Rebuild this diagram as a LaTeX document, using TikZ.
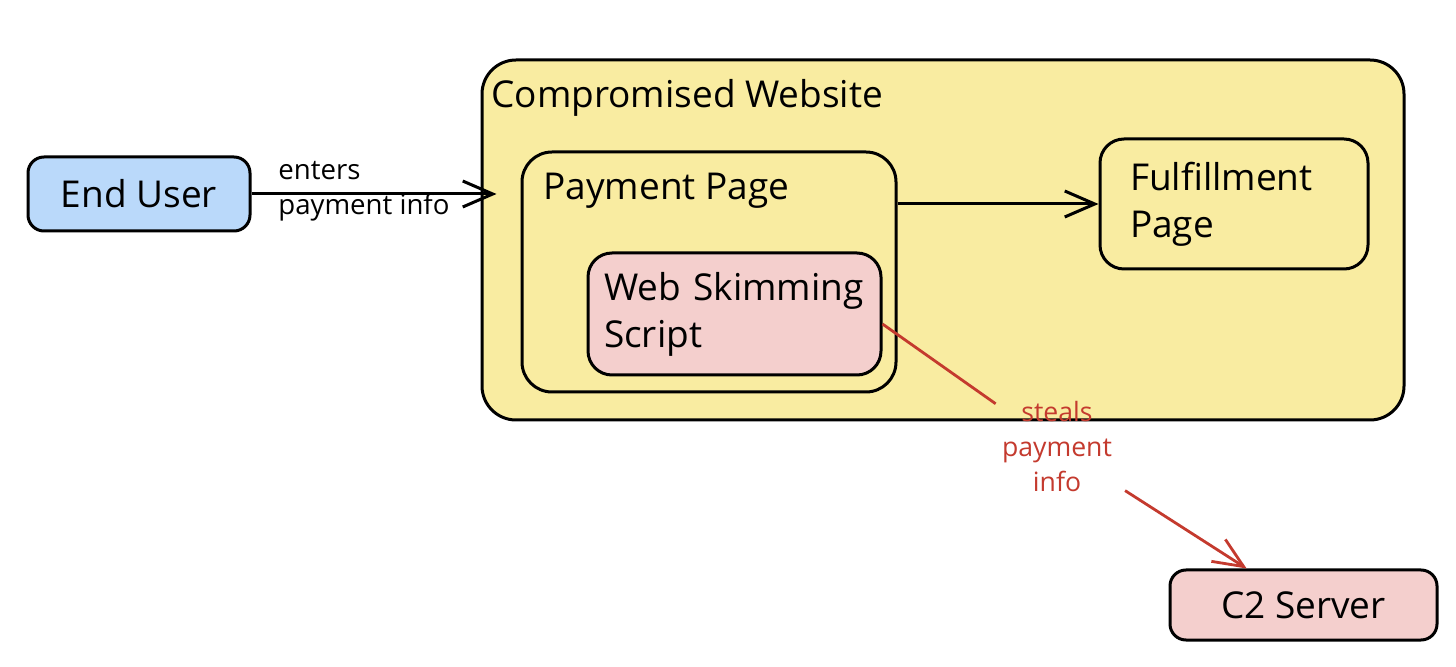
\documentclass[tikz,border=0pt]{standalone}
\usepackage{fontspec}
\setmainfont{Open Sans}
\usetikzlibrary{arrows.meta}
\definecolor{userblue}{HTML}{BAD9FA}
\definecolor{siteyellow}{HTML}{F9ECA1}
\definecolor{skimpink}{HTML}{F4CFCD}
\definecolor{stealred}{HTML}{C43A2E}
\tikzset{
  box/.style={draw=black, line width=1.5pt, inner sep=0pt},
  bigtext/.style={font=\fontsize{18.5}{23.5}\selectfont},
  smalltext/.style={font=\fontsize{13.8}{17.5}\selectfont},
  redtext/.style={font=\fontsize{13.3}{17.5}\selectfont},
  flow/.style={draw=black, line width=1.5pt, -{Straight Barb[length=15pt,width=13pt,line width=1.5pt]}},
  steal/.style={draw=stealred, line width=1.4pt},
}
\begin{document}
\begin{tikzpicture}[x=0.5pt, y=-0.5pt]
\useasboundingbox (0,0) rectangle (1456,667);
% containers
\node[box, fill=siteyellow, rounded corners=17pt, minimum width=461pt, minimum height=180pt] (WS) at (943,240) {};
\node[bigtext, anchor=base west, inner sep=0pt] (WStitle) at (491,108) {Compromised Website};
\node[box, fill=siteyellow, rounded corners=15pt, minimum width=187pt, minimum height=120pt] (PP) at (709,272) {};
\node[bigtext, anchor=base west, inner sep=0pt] (PPtitle) at (543,200) {Payment Page};
\node[box, fill=skimpink, rounded corners=12pt, inner xsep=8pt, text width=130.5pt, minimum height=61pt, align=left, bigtext] (SK) at (734.5,314) {Web Skimming\\Script};
\node[box, fill=siteyellow, rounded corners=12pt, inner xsep=15pt, text width=104pt, minimum height=65pt, align=left, bigtext] (FP) at (1234,204) {Fulfillment\\Page};
\node[box, fill=userblue, rounded corners=8pt, minimum width=111pt, minimum height=37pt, bigtext] (EU) at (139,194) {End User};
\node[box, fill=skimpink, rounded corners=8pt, minimum width=133.5pt, minimum height=35pt, bigtext] (C2) at (1303.5,605) {C2 Server};
% connectors
\draw[flow, shorten >=12pt] (EU.east) -- (EU.east -| PP.west);
\node[smalltext, anchor=west, align=left, inner sep=0pt] (enters) at (278,191) {enters\\payment info};
\draw[flow] (PP.east |- FP.west) -- (FP.west);
\node[redtext, text=stealred, align=center, inner sep=3pt] (stealtxt) at (1057,447) {steals\\payment\\info};
\draw[steal] ([yshift=-5pt]SK.east) -- (stealtxt);
\draw[steal, -{Straight Barb[length=15pt,width=13pt,line width=1.4pt]}, shorten <=4pt] (stealtxt) -- (C2);
\end{tikzpicture}
\end{document}
